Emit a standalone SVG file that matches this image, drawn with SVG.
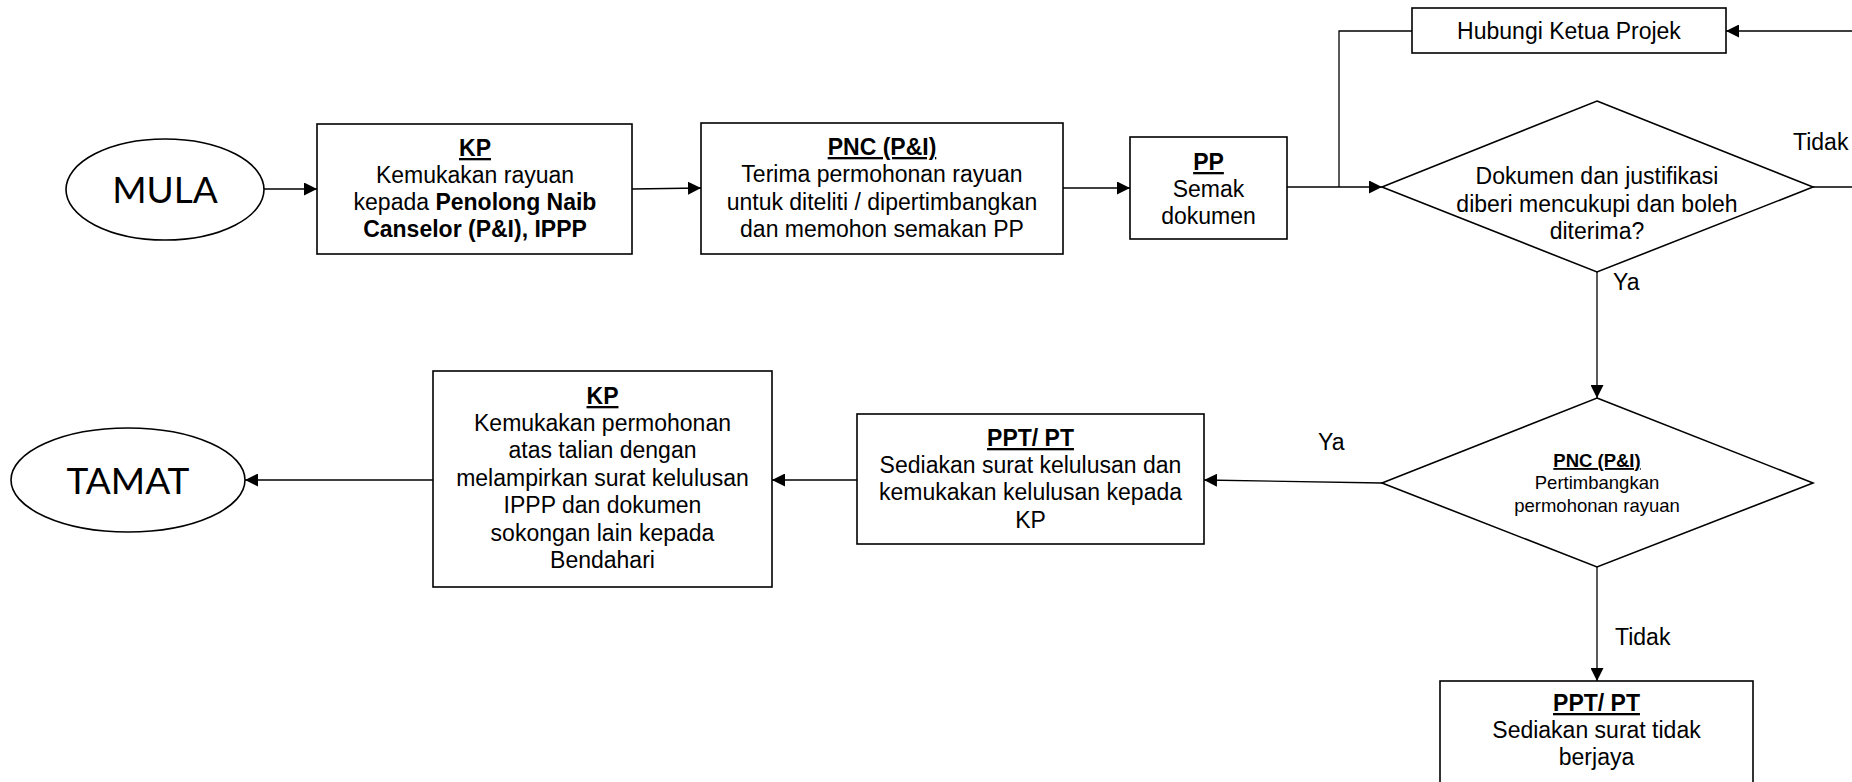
<svg xmlns="http://www.w3.org/2000/svg" width="1852" height="782" viewBox="0 0 1852 782">
<defs>
<marker id="arr" viewBox="0 0 10 10" refX="10" refY="5" markerWidth="13" markerHeight="13" markerUnits="userSpaceOnUse" orient="auto"><path d="M0,0 L10,5 L0,10 z" fill="#000"/></marker>
<style>
.box{fill:#fff;stroke:#000;stroke-width:1.6}
.t{font-family:"Liberation Sans",Arial,sans-serif;font-size:23px;fill:#000;text-anchor:middle}
.s{font-family:"Liberation Sans",Arial,sans-serif;font-size:18.5px;fill:#000;text-anchor:middle}
.b{font-weight:bold}
.u{font-weight:bold;text-decoration:underline}
.term{font-family:Lato,"Open Sans",sans-serif;font-size:37px;fill:#000;text-anchor:middle}
.lbl{font-family:"Liberation Sans",Arial,sans-serif;font-size:23px;fill:#000}
.c{fill:none;stroke:#000;stroke-width:1.3}
</style>
</defs>
<g id="connectors">
<path class="c" d="M264,189 L317,189" marker-end="url(#arr)"/>
<path class="c" d="M632,189 L701,188" marker-end="url(#arr)"/>
<path class="c" d="M1063,188 L1130,188" marker-end="url(#arr)"/>
<path class="c" d="M1287,187 L1382,187" marker-end="url(#arr)"/>
<path class="c" d="M1412,31 L1339,31 L1339,187"/>
<path class="c" d="M1813,187 L1870,187 L1870,31 L1726,31" marker-end="url(#arr)"/>
<path class="c" d="M1597,272 L1597,398" marker-end="url(#arr)"/>
<path class="c" d="M1382,483 L1204,480" marker-end="url(#arr)"/>
<path class="c" d="M857,480 L772,480" marker-end="url(#arr)"/>
<path class="c" d="M433,480 L245,480" marker-end="url(#arr)"/>
<path class="c" d="M1597,567 L1597,681" marker-end="url(#arr)"/>
<text class="lbl" x="1793" y="150">Tidak</text>
<text class="lbl" x="1613" y="290">Ya</text>
<text class="lbl" x="1318" y="450">Ya</text>
<text class="lbl" x="1615" y="645">Tidak</text>
</g>
<g id="mula">
<ellipse class="box" cx="165" cy="189.5" rx="99" ry="50.5"/>
<text class="term" x="165" y="203">MULA</text>
</g>
<g id="kp1">
<rect class="box" x="317" y="124" width="315" height="130"/>
<text class="t" x="475" y="156"><tspan class="u">KP</tspan></text>
<text class="t" x="475" y="183">Kemukakan rayuan</text>
<text class="t" x="475" y="210">kepada <tspan class="b">Penolong Naib</tspan></text>
<text class="t b" x="475" y="237">Canselor (P&amp;I), IPPP</text>
</g>
<g id="pnc1">
<rect class="box" x="701" y="123" width="362" height="131"/>
<text class="t" x="882" y="155"><tspan class="u">PNC (P&amp;I)</tspan></text>
<text class="t" x="882" y="182">Terima permohonan rayuan</text>
<text class="t" x="882" y="210">untuk diteliti / dipertimbangkan</text>
<text class="t" x="882" y="237">dan memohon semakan PP</text>
</g>
<g id="pp">
<rect class="box" x="1130" y="137" width="157" height="102"/>
<text class="t" x="1208.5" y="170"><tspan class="u">PP</tspan></text>
<text class="t" x="1208.5" y="197">Semak</text>
<text class="t" x="1208.5" y="224">dokumen</text>
</g>
<g id="hubungi">
<rect class="box" x="1412" y="8" width="314" height="45"/>
<text class="t" x="1569" y="39">Hubungi Ketua Projek</text>
</g>
<g id="decision1">
<polygon class="box" points="1597,101 1813,187 1597,272 1382,187"/>
<text class="t" x="1597" y="184">Dokumen dan justifikasi</text>
<text class="t" x="1597" y="212">diberi mencukupi dan boleh</text>
<text class="t" x="1597" y="239">diterima?</text>
</g>
<g id="decision2">
<polygon class="box" points="1597,398 1813,483 1597,567 1382,483"/>
<text class="s" x="1597" y="467"><tspan class="u">PNC (P&amp;I)</tspan></text>
<text class="s" x="1597" y="489">Pertimbangkan</text>
<text class="s" x="1597" y="512">permohonan rayuan</text>
</g>
<g id="ppt1">
<rect class="box" x="857" y="414" width="347" height="130"/>
<text class="t" x="1030.5" y="446"><tspan class="u">PPT/ PT</tspan></text>
<text class="t" x="1030.5" y="473">Sediakan surat kelulusan dan</text>
<text class="t" x="1030.5" y="500">kemukakan kelulusan kepada</text>
<text class="t" x="1030.5" y="528">KP</text>
</g>
<g id="kp2">
<rect class="box" x="433" y="371" width="339" height="216"/>
<text class="t" x="602.5" y="404"><tspan class="u">KP</tspan></text>
<text class="t" x="602.5" y="431">Kemukakan permohonan</text>
<text class="t" x="602.5" y="458">atas talian dengan</text>
<text class="t" x="602.5" y="486">melampirkan surat kelulusan</text>
<text class="t" x="602.5" y="513">IPPP dan dokumen</text>
<text class="t" x="602.5" y="541">sokongan lain kepada</text>
<text class="t" x="602.5" y="568">Bendahari</text>
</g>
<g id="tamat">
<ellipse class="box" cx="128" cy="480" rx="117" ry="52"/>
<text class="term" x="128" y="494">TAMAT</text>
</g>
<g id="ppt2">
<rect class="box" x="1440" y="681" width="313" height="130"/>
<text class="t" x="1596.5" y="711"><tspan class="u">PPT/ PT</tspan></text>
<text class="t" x="1596.5" y="738">Sediakan surat tidak</text>
<text class="t" x="1596.5" y="765">berjaya</text>
</g>
</svg>
